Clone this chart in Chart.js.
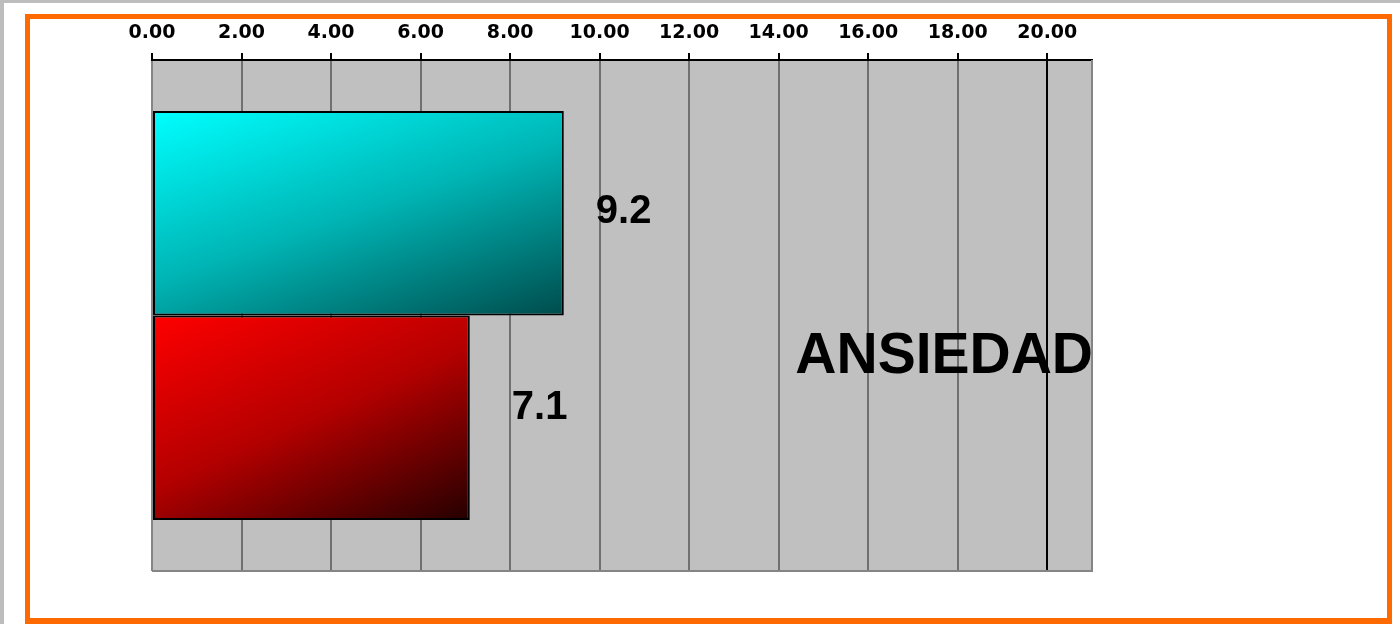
<!DOCTYPE html>
<html>
<head>
<meta charset="utf-8">
<script src="https://cdn.jsdelivr.net/npm/chart.js@4"></script>
<style>
  html, body { margin: 0; padding: 0; background: #ffffff; }
  body { width: 1400px; height: 624px; position: relative; overflow: hidden; }
  .edge-top { position: absolute; left: 0; top: 0; width: 1400px; height: 3px; background: #bdbdbd; }
  .edge-left { position: absolute; left: 0; top: 0; width: 4px; height: 624px; background: #bdbdbd; }
  .frame { position: absolute; left: 25px; top: 14px; width: 1367px; height: 610px;
           box-sizing: border-box; border: 5px solid #ff6a00; border-bottom-width: 6px; }
  canvas { position: absolute; left: 0; top: 0; }
</style>
</head>
<body>
<div class="edge-top"></div>
<div class="edge-left"></div>
<div class="frame"></div>
<canvas id="chart" width="1400" height="624"></canvas>
<script>
// Category and series values
const categories = ['ANSIEDAD'];
const seriesA = [9.2];
const seriesB = [7.1];
// Value axis tick labels (0 to 20 every 2)
const tickLabels = ['0.00', '2.00', '4.00', '6.00', '8.00', '10.00', '12.00', '14.00', '16.00', '18.00', '20.00'];

// Diagonal gradient across one bar's box (light top-left, dark bottom-right),
// built from the scale geometry
function barGradient(stops) {
  return function (ctx) {
    const chart = ctx.chart;
    const xs = chart.scales.x, ys = chart.scales.y;
    if (!chart.chartArea || !xs || !ys || ctx.raw === undefined) return stops[0];
    const x0 = xs.getPixelForValue(0);
    const x1 = xs.getPixelForValue(ctx.raw);
    const n = categories.length;
    const slot = (ys.bottom - ys.top) / n;
    const group = slot * 0.8;
    const h = group / chart.data.datasets.length;
    const center = ys.getPixelForValue(ctx.dataIndex);
    const top = center - group / 2 + ctx.datasetIndex * h;
    const w = x1 - x0;
    // gradient axis tilted so the far corner ends at the last stop
    const dx = 0.7 * h, dy = w;
    const k = (dx * w + dy * h) / (dx * dx + dy * dy);
    const g = chart.ctx.createLinearGradient(x0, top, x0 + dx * k, top + dy * k);
    stops.forEach((c, i) => g.addColorStop(i / (stops.length - 1), c));
    return g;
  };
}

// Grey plot panel with its frame
const panelPlugin = {
  id: 'panel',
  beforeDraw(chart) {
    const { ctx, chartArea: a } = chart;
    ctx.save();
    ctx.fillStyle = '#c0c0c0';
    ctx.fillRect(a.left, a.top, a.right - a.left, a.bottom - a.top);
    ctx.restore();
  },
  beforeDatasetsDraw(chart) {
    const { ctx, chartArea: a } = chart;
    ctx.save();
    ctx.strokeStyle = '#858585';
    ctx.lineWidth = 2;
    ctx.beginPath();
    ctx.moveTo(a.left, a.bottom);
    ctx.lineTo(a.right, a.bottom);
    ctx.lineTo(a.right, a.top);
    ctx.stroke();
    ctx.restore();
  }
};

// Value labels beside the bars and the category name
const labelPlugin = {
  id: 'barLabels',
  afterDatasetsDraw(chart, args, opts) {
    const { ctx } = chart;
    ctx.save();
    ctx.fillStyle = '#000';
    ctx.font = 'bold 40px "Liberation Sans", Arial, sans-serif';
    ctx.textAlign = 'left';
    ctx.textBaseline = 'middle';
    chart.data.datasets.forEach((ds, i) => {
      const meta = chart.getDatasetMeta(i);
      meta.data.forEach((bar, j) => {
        const v = ds.data[j];
        ctx.fillText(v.toFixed(1), bar.x + opts.dx[i], bar.y + opts.dy[i]);
      });
    });
    const ys = chart.scales.y;
    ctx.font = 'bold 57px "Liberation Sans", Arial, sans-serif';
    ctx.textAlign = 'right';
    ctx.textBaseline = 'alphabetic';
    categories.forEach((c, j) => {
      ctx.fillText(c, chart.chartArea.right + 1, ys.getPixelForValue(j) + 57);
    });
    ctx.restore();
  }
};

new Chart(document.getElementById('chart'), {
  type: 'bar',
  data: {
    labels: categories,
    datasets: [
      {
        data: seriesA,
        backgroundColor: barGradient(['#00ffff', '#00b4b4', '#004c4c']),
        borderColor: '#000000',
        borderWidth: 2,
        borderSkipped: false
      },
      {
        data: seriesB,
        backgroundColor: barGradient(['#ff0000', '#b40000', '#250000']),
        borderColor: '#000000',
        borderWidth: 2,
        borderSkipped: false
      }
    ]
  },
  options: {
    indexAxis: 'y',
    responsive: false,
    animation: false,
    events: [],
    datasets: { bar: { categoryPercentage: 0.8, barPercentage: 1.0 } },
    layout: { padding: { left: 152, right: 308, top: 0, bottom: 53 } },
    plugins: {
      legend: { display: false },
      tooltip: { enabled: false },
      barLabels: { dx: [32, 42], dy: [-1, -10] }
    },
    scales: {
      x: {
        position: 'top',
        min: 0,
        max: 21,
        afterFit(scale) { scale.height = 60; },
        ticks: {
          stepSize: 2,
          includeBounds: false,
          padding: 9,
          color: '#000',
          font: { family: '"DejaVu Sans", Verdana, sans-serif', weight: 'bold', size: 19 },
          callback: (value, index) => tickLabels[index]
        },
        grid: {
          drawTicks: true,
          tickLength: 7,
          tickColor: '#000',
          lineWidth: 2,
          color: (ctx) => ctx.tick && ctx.tick.value === 20 ? '#000000'
                         : (ctx.tick && ctx.tick.value === 0 ? '#858585' : '#707070')
        },
        border: { display: true, color: '#000', width: 2 }
      },
      y: {
        display: false
      }
    }
  },
  plugins: [panelPlugin, labelPlugin]
});
</script>
</body>
</html>
